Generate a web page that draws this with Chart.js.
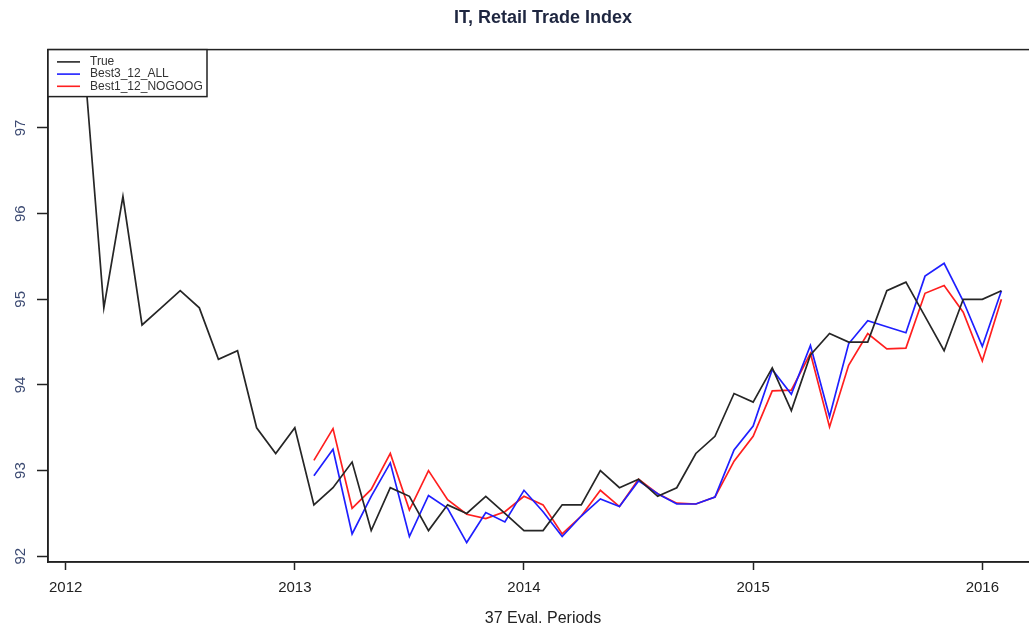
<!DOCTYPE html>
<html>
<head>
<meta charset="utf-8">
<title>IT, Retail Trade Index</title>
<script src="https://cdn.jsdelivr.net/npm/chart.js@4.4.1/dist/chart.umd.min.js"></script>
<style>
  html, body { margin: 0; padding: 0; background: #fff; overflow: hidden; }
  #wrap { width: 1086px; height: 631px; }
</style>
</head>
<body>
<div id="wrap"><canvas id="chart" width="1086" height="631"></canvas></div>
<script>
// monthly index, Feb 2012 .. Feb 2016
const trueStart = '2012-02';
const trueVals = [
  97.7, 94.9, 96.2, 94.7, 94.9, 95.1, 94.9, 94.3, 94.4, 93.5, 93.2,
  93.5, 92.6, 92.8, 93.1, 92.3, 92.8, 92.7, 92.3, 92.6, 92.5, 92.7, 92.5,
  92.3, 92.3, 92.6, 92.6, 93.0, 92.8, 92.9, 92.7, 92.8, 93.2, 93.4, 93.9,
  93.8, 94.2, 93.7, 94.35, 94.6, 94.5, 94.5, 95.1, 95.2, 94.8, 94.4, 95.0,
  95.0, 95.1
];

// 37 evaluation periods, Feb 2013 .. Feb 2016
const fcStart = '2013-02';
const best3Vals = [
  92.94, 93.25, 92.26, 92.70, 93.09, 92.23, 92.71, 92.56, 92.16, 92.51, 92.40,
  92.77, 92.52, 92.23, 92.47, 92.67, 92.58, 92.88, 92.73, 92.61, 92.61, 92.69, 93.24,
  93.52, 94.18, 93.89, 94.46, 93.63, 94.48, 94.75, 94.68, 94.61, 95.27, 95.42, 94.98,
  94.45, 95.10
];
const best1Vals = [
  93.12, 93.49, 92.56, 92.78, 93.20, 92.54, 93.00, 92.66, 92.49, 92.44, 92.52,
  92.70, 92.60, 92.26, 92.47, 92.77, 92.58, 92.90, 92.73, 92.62, 92.61, 92.69, 93.11,
  93.40, 93.93, 93.94, 94.37, 93.51, 94.23, 94.60, 94.42, 94.43, 95.07, 95.16, 94.85,
  94.28, 95.00
];

const seriesNames = ['True', 'Best3_12_ALL', 'Best1_12_NOGOOG'];
const seriesColors = ['#262626', '#1f1fff', '#ff1f1f'];
const xTicks = [2012, 2013, 2014, 2015, 2016];
const yTicks = [92, 93, 94, 95, 96, 97];

const FONT = "'Liberation Sans', Arial, sans-serif";

// '2012-02' -> 2012.0833, then step one month per value
function toPoints(start, vals) {
  const [y, m] = start.split('-').map(Number);
  return vals.map((v, i) => ({ x: y + (m - 1 + i) / 12, y: v }));
}

const frame = {
  id: 'frame',
  afterDatasetsDraw(chart) {
    const { ctx, chartArea: a } = chart;
    ctx.save();
    ctx.strokeStyle = '#222';
    ctx.lineWidth = 1.5;
    ctx.strokeRect(a.left, a.top, a.right - a.left, a.bottom - a.top);
    ctx.restore();
  }
};

const boxLegend = {
  id: 'boxLegend',
  afterDraw(chart) {
    const { ctx, chartArea: a } = chart;
    const x0 = a.left, y0 = a.top;
    ctx.save();
    ctx.fillStyle = '#fff';
    ctx.fillRect(x0, y0, 159, 47);
    ctx.strokeStyle = '#222';
    ctx.lineWidth = 1.5;
    ctx.strokeRect(x0, y0, 159, 47);
    ctx.font = '12px ' + FONT;
    ctx.textBaseline = 'middle';
    chart.data.datasets.forEach((ds, i) => {
      const yy = y0 + 12.3 + i * 12.2;
      ctx.strokeStyle = ds.borderColor;
      ctx.lineWidth = 1.6;
      ctx.beginPath();
      ctx.moveTo(x0 + 9, yy);
      ctx.lineTo(x0 + 32, yy);
      ctx.stroke();
      ctx.fillStyle = '#333';
      ctx.fillText(ds.label, x0 + 42, yy);
    });
    ctx.restore();
  }
};

const lineDs = (i, pts) => ({
  label: seriesNames[i],
  data: pts,
  borderColor: seriesColors[i],
  borderWidth: 1.7,
  pointRadius: 0,
  tension: 0,
  fill: false
});

new Chart(document.getElementById('chart'), {
  type: 'line',
  data: {
    datasets: [
      lineDs(0, toPoints(trueStart, trueVals)),
      lineDs(1, toPoints(fcStart, best3Vals)),
      lineDs(2, toPoints(fcStart, best1Vals))
    ]
  },
  options: {
    responsive: false,
    devicePixelRatio: 1,
    animation: false,
    layout: { padding: 0 },
    plugins: {
      legend: { display: false },
      tooltip: { enabled: false },
      title: {
        display: true,
        text: 'IT, Retail Trade Index',
        color: '#1e2640',
        font: { family: FONT, size: 18, weight: 'bold' },
        padding: { top: 7, bottom: 21 }
      }
    },
    scales: {
      x: {
        type: 'linear',
        position: 'bottom',
        min: 2011.923,
        max: 2016.243,
        afterBuildTicks: s => { s.ticks = xTicks.map(v => ({ value: v })); },
        afterFit: s => { s.height = 69; },
        grid: { drawOnChartArea: false, drawTicks: true, tickLength: 8, tickColor: '#222', tickWidth: 1.5 },
        border: { display: true, color: '#222', width: 1.5 },
        ticks: {
          padding: 9, color: '#222', autoSkip: false, maxRotation: 0,
          font: { family: FONT, size: 15 },
          callback: v => String(v)
        },
        title: {
          display: true,
          text: '37 Eval. Periods',
          color: '#222',
          font: { family: FONT, size: 16 },
          padding: { top: 0, bottom: 3 }
        }
      },
      y: {
        type: 'linear',
        position: 'left',
        min: 91.933,
        max: 97.915,
        afterBuildTicks: s => { s.ticks = yTicks.map(v => ({ value: v })); },
        afterFit: s => { s.width = 48; },
        grid: { drawOnChartArea: false, drawTicks: true, tickLength: 11, tickColor: '#222', tickWidth: 1.5 },
        border: { display: true, color: '#222', width: 1.5 },
        ticks: {
          minRotation: 90, maxRotation: 90, crossAlign: 'center',
          padding: 8, color: '#3c4a72',
          font: { family: FONT, size: 15 },
          callback: v => String(v)
        }
      },
      // empty right-hand box so the title centres over the plot
      yr: {
        type: 'linear',
        position: 'right',
        afterFit: s => { s.width = 48; },
        grid: { display: false },
        border: { display: false },
        ticks: { display: false }
      }
    }
  },
  plugins: [frame, boxLegend]
});
</script>
</body>
</html>
